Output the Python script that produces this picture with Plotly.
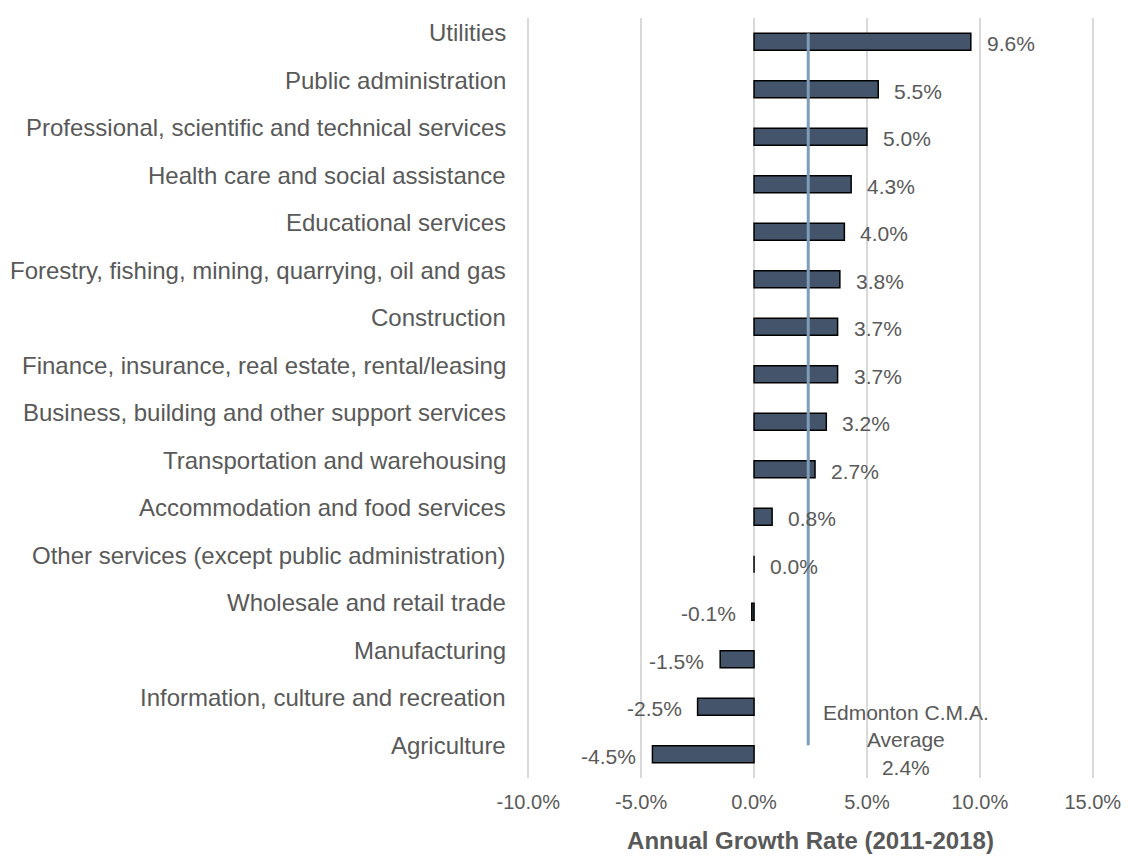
import plotly.graph_objects as go

industries = [
    "Utilities",
    "Public administration",
    "Professional, scientific and technical services",
    "Health care and social assistance",
    "Educational services",
    "Forestry, fishing, mining, quarrying, oil and gas",
    "Construction",
    "Finance, insurance, real estate, rental/leasing",
    "Business, building and other support services",
    "Transportation and warehousing",
    "Accommodation and food services",
    "Other services (except public administration)",
    "Wholesale and retail trade",
    "Manufacturing",
    "Information, culture and recreation",
    "Agriculture",
]
growth = [9.6, 5.5, 5.0, 4.3, 4.0, 3.8, 3.7, 3.7, 3.2, 2.7, 0.8, 0.0, -0.1, -1.5, -2.5, -4.5]
cma_average = 2.4
x_ticks = [-10, -5, 0, 5, 10, 15]

grey = "#595959"
font_family = "Arial, Liberation Sans, sans-serif"

fig = go.Figure()
fig.add_trace(go.Bar(
    x=growth, y=industries, orientation="h", width=0.36,
    marker=dict(color="#44546A", line=dict(color="black", width=1.5)),
    hoverinfo="skip",
))

# average line
fig.add_shape(type="line", xref="x", yref="paper",
              x0=cma_average, x1=cma_average, y0=0.043, y1=0.98,
              line=dict(color="#7F9DB9", width=3))

# category labels (sit a little above the bars, like the original)
for name in industries:
    fig.add_annotation(
        xref="paper", x=0, y=name, xshift=-18, yshift=9,
        text=name, showarrow=False, xanchor="right",
        font=dict(size=24, color=grey, family=font_family),
    )

# value labels
for name, v in zip(industries, growth):
    fig.add_annotation(
        x=v, y=name, text=f"{v:.1f}%", showarrow=False,
        xanchor="left" if v >= 0 else "right",
        xshift=14 if v >= 0 else -14, yshift=-2,
        font=dict(size=21, color=grey, family=font_family),
    )

fig.add_annotation(
    x=cma_average, y=industries[-1], xshift=98, yshift=14,
    text="Edmonton C.M.A.<br>Average<br>2.4%", showarrow=False,
    xanchor="center", yanchor="middle",
    font=dict(size=21, color=grey, family=font_family),
)

fig.update_layout(
    width=1130, height=856,
    margin=dict(l=518, r=43, t=10, b=86),
    paper_bgcolor="white", plot_bgcolor="white",
    showlegend=False,
    font=dict(family=font_family, size=18, color=grey),
    xaxis=dict(
        range=[-10.1, 15.1], tickvals=x_ticks,
        ticktext=[f"{t:.1f}%" for t in x_ticks],
        showgrid=True, gridcolor="#D9D9D9", gridwidth=2,
        zeroline=False, showline=False, automargin=False,
        tickfont=dict(size=20, color=grey), ticklabelstandoff=10,
        title=dict(text="<b>Annual Growth Rate (2011-2018)</b>",
                   font=dict(size=24, color=grey), standoff=20),
    ),
    yaxis=dict(
        range=[len(industries) - 0.5, -0.5], showgrid=False, zeroline=False,
        showticklabels=False, automargin=False,
    ),
)

fig.write_html("out.html")
